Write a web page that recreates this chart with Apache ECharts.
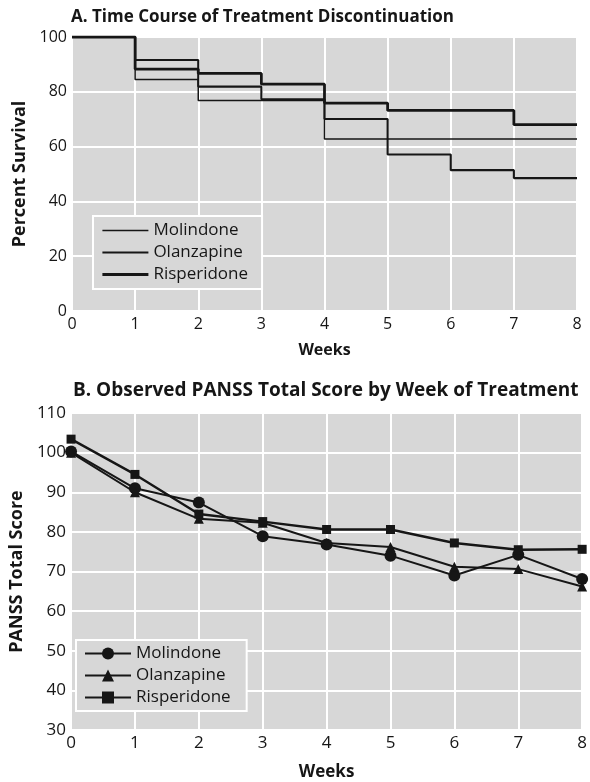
<!DOCTYPE html>
<html>
<head>
<meta charset="utf-8">
<script src="https://cdn.jsdelivr.net/npm/echarts@6/dist/echarts.min.js"></script>
<style>
html,body{margin:0;padding:0;background:#fff;}
#c{width:590px;height:782px;}
</style>
</head>
<body>
<div id="c"></div>
<script>
// Panel A: survival (value during week k -> k+1; last repeats for week 8)
const weeks = [0, 1, 2, 3, 4, 5, 6, 7, 8];
const survMolindone   = [100, 84.5, 76.8, 76.8, 62.8, 62.8, 62.8, 62.8, 62.8];
const survOlanzapine  = [100, 91.6, 81.9, 77.3, 70.1, 57.1, 51.4, 48.5, 48.5];
const survRisperidone = [100, 88.3, 86.7, 82.8, 75.9, 73.2, 73.2, 68.0, 68.0];
// Panel B: PANSS total score
const pansMolindone   = [100.3, 91.0, 87.4, 78.9, 76.8, 74.0, 69.0, 74.2, 68.1];
const pansOlanzapine  = [100.0, 90.0, 83.3, 82.3, 77.2, 76.2, 71.2, 70.6, 66.2];
const pansRisperidone = [103.4, 94.5, 84.5, 82.6, 80.6, 80.6, 77.2, 75.5, 75.6];
const seriesNames = ['Molindone', 'Olanzapine', 'Risperidone'];

const pair = arr => weeks.map((w, i) => [w, arr[i]]);
const FONT = 'Open Sans';
const INK = '#161616';
const PLOTBG = '#d7d7d7';
const stepWidths = [1.5, 2.1, 2.8];

const chart = echarts.init(document.getElementById('c'), null, {renderer: 'canvas'});

const xAxisBase = (gi, nameGap, fs) => ({
  gridIndex: gi, type: 'value', min: 0, max: 8, interval: 1,
  name: 'Weeks', nameLocation: 'middle', nameGap: nameGap,
  nameTextStyle: {fontFamily: FONT, fontWeight: 'bold', fontSize: fs, color: INK},
  axisLine: {show: false}, axisTick: {show: false},
  axisLabel: {fontFamily: FONT, fontSize: fs, color: INK, margin: 5},
  splitLine: {show: true, lineStyle: {color: '#ffffff', width: 2}}
});

const option = {
  backgroundColor: '#ffffff',
  animation: false,
  title: [
    {text: 'A. Time Course of Treatment Discontinuation', left: 66, top: 4,
     textStyle: {fontFamily: FONT, fontWeight: 'bold', fontSize: 17, color: INK}},
    {text: 'B. Observed PANSS Total Score by Week of Treatment', left: 68, top: 376,
     textStyle: {fontFamily: FONT, fontWeight: 'bold', fontSize: 19, color: INK}}
  ],
  grid: [
    {left: 72, right: 13, top: 37, height: 274, show: true, backgroundColor: PLOTBG, borderWidth: 0},
    {left: 70, right: 5, top: 413, height: 319, show: true, backgroundColor: PLOTBG, borderWidth: 0}
  ],
  legend: [
    {
      data: seriesNames.map((n, i) => ({name: n, lineStyle: {width: stepWidths[i], color: INK}})),
      orient: 'vertical', left: 93, top: 216,
      backgroundColor: PLOTBG, borderColor: '#ffffff', borderWidth: 2,
      padding: [6, 14, 6, 8], itemGap: 5, itemWidth: 46, itemHeight: 15,
      itemStyle: {opacity: 0},
      textStyle: {fontFamily: FONT, fontSize: 17, color: INK},
      selectedMode: false
    },
    {
      data: seriesNames.map(n => n + ' '), orient: 'vertical', left: 76, top: 640,
      backgroundColor: PLOTBG, borderColor: '#ffffff', borderWidth: 2,
      padding: [5, 16, 5, 8], itemGap: 5, itemWidth: 46, itemHeight: 15,
      textStyle: {fontFamily: FONT, fontSize: 17, color: INK},
      formatter: n => n.trim(),
      selectedMode: false
    }
  ],
  xAxis: [xAxisBase(0, 31, 16), xAxisBase(1, 34, 17)],
  yAxis: [
    {gridIndex: 0, type: 'value', min: 0, max: 100, interval: 20,
     name: 'Percent Survival', nameLocation: 'middle', nameGap: 34,
     nameTextStyle: {fontFamily: FONT, fontWeight: 'bold', fontSize: 18, color: INK},
     axisLine: {show: false}, axisTick: {show: false},
     axisLabel: {fontFamily: FONT, fontSize: 16, color: INK, margin: 5},
     splitLine: {show: true, lineStyle: {color: '#ffffff', width: 2}}},
    {gridIndex: 1, type: 'value', min: 30, max: 110, interval: 10,
     name: 'PANSS Total Score', nameLocation: 'middle', nameGap: 43,
     nameTextStyle: {fontFamily: FONT, fontWeight: 'bold', fontSize: 18, color: INK},
     axisLine: {show: false}, axisTick: {show: false},
     axisLabel: {fontFamily: FONT, fontSize: 17, color: INK, margin: 5},
     splitLine: {show: true, lineStyle: {color: '#ffffff', width: 2}}}
  ],
  series: [
    {name: 'Molindone', type: 'line', xAxisIndex: 0, yAxisIndex: 0, step: 'end',
     data: pair(survMolindone), showSymbol: false, symbol: 'none',
     lineStyle: {color: INK, width: stepWidths[0]}, itemStyle: {color: INK}},
    {name: 'Olanzapine', type: 'line', xAxisIndex: 0, yAxisIndex: 0, step: 'end',
     data: pair(survOlanzapine), showSymbol: false, symbol: 'none',
     lineStyle: {color: INK, width: stepWidths[1]}, itemStyle: {color: INK}},
    {name: 'Risperidone', type: 'line', xAxisIndex: 0, yAxisIndex: 0, step: 'end',
     data: pair(survRisperidone), showSymbol: false, symbol: 'none',
     lineStyle: {color: INK, width: stepWidths[2]}, itemStyle: {color: INK}},
    {name: 'Molindone ', type: 'line', xAxisIndex: 1, yAxisIndex: 1,
     data: pair(pansMolindone), symbol: 'circle', symbolSize: 12,
     lineStyle: {color: INK, width: 2}, itemStyle: {color: INK}},
    {name: 'Olanzapine ', type: 'line', xAxisIndex: 1, yAxisIndex: 1,
     data: pair(pansOlanzapine), symbol: 'triangle', symbolSize: 10,
     lineStyle: {color: INK, width: 2}, itemStyle: {color: INK}},
    {name: 'Risperidone ', type: 'line', xAxisIndex: 1, yAxisIndex: 1,
     data: pair(pansRisperidone), symbol: 'rect', symbolSize: 9,
     lineStyle: {color: INK, width: 2.4}, itemStyle: {color: INK}}
  ]
};
chart.setOption(option);
</script>
</body>
</html>
